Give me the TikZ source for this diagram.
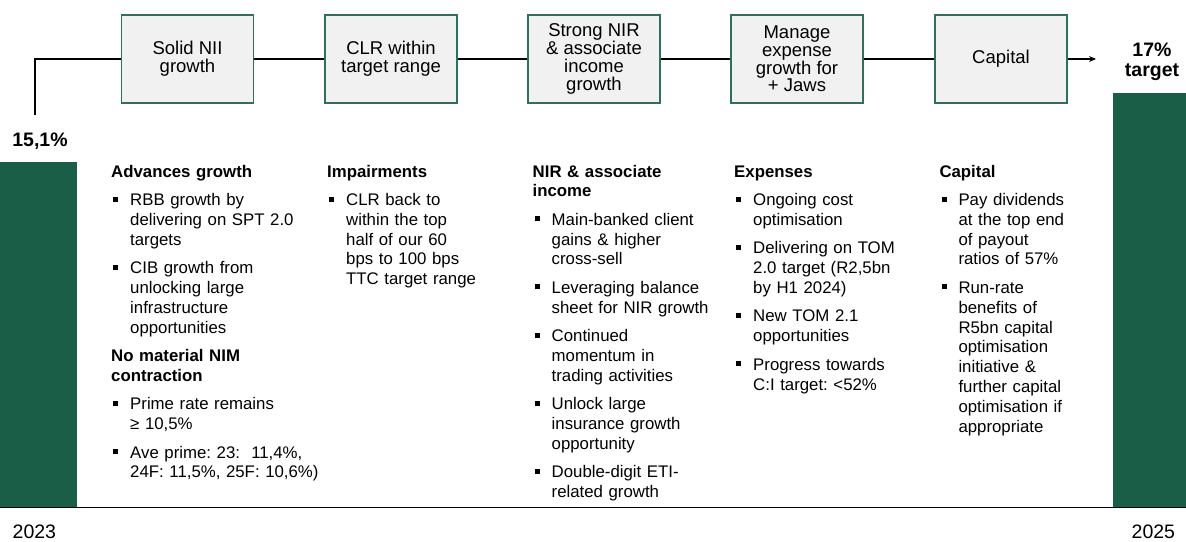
\documentclass[tikz,border=0pt]{standalone}
\usepackage{fontspec}
\setmainfont{Liberation Sans}
\usetikzlibrary{arrows.meta}

\definecolor{bargreen}{RGB}{26,94,72}
\definecolor{boxgreen}{RGB}{46,112,88}
\definecolor{boxfill}{RGB}{241,241,241}

\newcommand{\sqitem}{\par\vspace{8.7pt}\hangindent=19pt\hangafter=1\noindent\makebox[19pt][l]{\hspace{2pt}\rule[4pt]{5pt}{5pt}}}
\newcommand{\sqhead}[1]{\par\vspace{8.7pt}\noindent\textbf{#1}}

\begin{document}
\begin{tikzpicture}[x=1pt,y=-1pt,>={Stealth[length=7pt,width=6pt]},
  stage/.style={draw=boxgreen,fill=boxfill,line width=1.2pt,minimum width=132pt,minimum height=88pt,inner sep=2pt,align=center,font=\fontsize{18.5}{17.8}\selectfont},
  col/.style={anchor=base west,inner sep=0pt,text width=240pt,align=left,font=\fontsize{16.8}{19.8}\selectfont\frenchspacing},
  big/.style={inner sep=0pt,font=\fontsize{19.5}{20}\selectfont\bfseries},
  year/.style={anchor=base west,inner sep=0pt,font=\fontsize{19.5}{20}\selectfont},
  link/.style={line width=1.1pt}]
  \useasboundingbox (0,0) rectangle (1186,541);

  % bars and base line
  \fill[bargreen] (0,162) rectangle (77,508);
  \fill[bargreen] (1113,93) rectangle (1186,508);
  \draw[line width=1.1pt] (0,507.5) -- (1186,507.5);

  % stages
  \node[stage] (s1) at (187.5,59) {Solid NII\\growth};
  \node[stage] (s2) at (391,59) {CLR within\\target range};
  \node[stage] (s3) at (594,59) {Strong NIR\\\& associate\\income\\growth};
  \node[stage] (s4) at (797,59) {Manage\\expense\\growth for\\+ Jaws};
  \node[stage] (s5) at (1001,59) {Capital};

  \coordinate (start) at (35,115);
  \coordinate (goal) at (1096,59);
  \draw[link] (start) |- (s1.west);
  \draw[link] (s1) -- (s2);
  \draw[link] (s2) -- (s3);
  \draw[link] (s3) -- (s4);
  \draw[link] (s4) -- (s5);
  \draw[link,->] (s5) -- (goal);

  % values and years
  \node[big,anchor=base] (roe23) at (40,146.7) {15,1\%};
  \node[big,anchor=base,text width=80pt,align=center] (roe25) at (1152,56) {17\%\\target};
  \node[year] (y23) at (12.5,538) {2023};
  \node[year] (y25) at (1131.5,538) {2025};

  % columns
  \node[col] (c1) at (111,177) {\textbf{Advances growth}
    \sqitem RBB growth by\newline delivering on SPT 2.0\newline targets
    \sqitem CIB growth from\newline unlocking large\newline infrastructure\newline opportunities
    \sqhead{No material NIM\newline contraction}
    \sqitem Prime rate remains\newline ≥ 10,5\%
    \sqitem Ave prime: 23:~ 11,4\%,\newline 24F: 11,5\%, 25F: 10,6\%)\par};
  \node[col] (c2) at (327,177) {\textbf{Impairments}
    \sqitem CLR back to\newline within the top\newline half of our 60\newline bps to 100 bps\newline TTC target range\par};
  \node[col] (c3) at (532.5,177) {\textbf{NIR \& associate\newline income}
    \sqitem Main-banked client\newline gains \& higher\newline cross-sell
    \sqitem Leveraging balance\newline sheet for NIR growth
    \sqitem Continued\newline momentum in\newline trading activities
    \sqitem Unlock large\newline insurance growth\newline opportunity
    \sqitem Double-digit ETI-\newline related growth\par};
  \node[col] (c4) at (734,177) {\textbf{Expenses}
    \sqitem Ongoing cost\newline optimisation
    \sqitem Delivering on TOM\newline 2.0 target (R2,5bn\newline by H1 2024)
    \sqitem New TOM 2.1\newline opportunities
    \sqitem Progress towards\newline C:I target: <52\%\par};
  \node[col] (c5) at (939.3,177) {\textbf{Capital}
    \sqitem Pay dividends\newline at the top end\newline of payout\newline ratios of 57\%
    \sqitem Run-rate\newline benefits of\newline R5bn capital\newline optimisation\newline initiative \&\newline further capital\newline optimisation if\newline appropriate\par};
\end{tikzpicture}
\end{document}
